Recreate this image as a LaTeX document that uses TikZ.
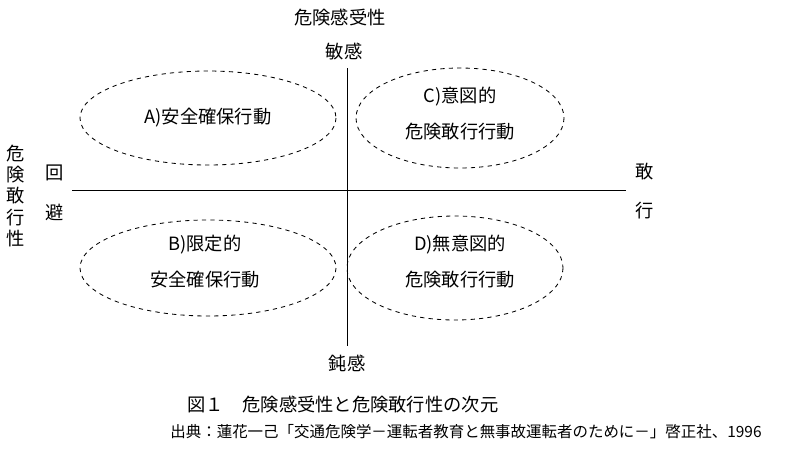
\documentclass[tikz,border=0pt]{standalone}
\usepackage{fontspec}
\setmainfont{Noto Sans CJK JP}
\usetikzlibrary{positioning}
\tikzset{
  lbl/.style={font=\fontsize{13}{15}\selectfont, inner sep=1pt},
  zone/.style={draw, dashed, semithick},
  axis/.style={draw, semithick}
}
\begin{document}
\begin{tikzpicture}[x=0.025cm, y=-0.025cm]
	\useasboundingbox (0,0) rectangle (800,450);
	
	% axes
	\coordinate (Top) at (347,68);
	\coordinate (Bot) at (347,346);
	\coordinate (Lft) at (72,190);
	\coordinate (Rgt) at (626,190);
	\draw[axis] (Top) -- (Bot);
	\draw[axis] (Lft) -- (Rgt);
	
	% axis labels
	\node[lbl] (Sens) at (340,18) {危険感受性};
	\node[lbl] (Keen) at (344,52) {敏感};
	\node[lbl] (Dull) at (347,363) {鈍感};
	\node[lbl] (DareA) at (645,172) {敢};
	\node[lbl] (DareB) at (645,211) {行};
	\node[lbl] (AvoidA) at (55,173) {回};
	\node[lbl] (AvoidB) at (55,212) {避};
	\node[lbl, align=center] (Dare) at (16,196) {危\\[0pt]険\\[0pt]敢\\[0pt]行\\[0pt]性};
	
	% quadrants
	\draw[zone] (208,118) ellipse (128 and 47);
	\draw[zone] (460,118) ellipse (104 and 50);
	\draw[zone] (208,268) ellipse (128 and 48);
	\draw[zone] (455,268) ellipse (108 and 52);
	\node[lbl] (QA) at (208,118) {A)安全確保行動};
	\node[lbl] (QC1) at (460,97) {C)意図的};
	\node[lbl] (QC2) at (460,132) {危険敢行行動};
	\node[lbl] (QB1) at (205,245) {B)限定的};
	\node[lbl] (QB2) at (205,280) {安全確保行動};
	\node[lbl] (QD1) at (460,245) {D)無意図的};
	\node[lbl] (QD2) at (460,280) {危険敢行行動};
	
	% caption
	\node[lbl] (Cap) at (343,405) {図１\quad 危険感受性と危険敢行性の次元};
	\node[font=\fontsize{11}{13}\selectfont, inner sep=1pt] (Src) at (466,432) {出典：蓮花一己「交通危険学－運転者教育と無事故運転者のために－」啓正社、1996};
\end{tikzpicture}
\end{document}
